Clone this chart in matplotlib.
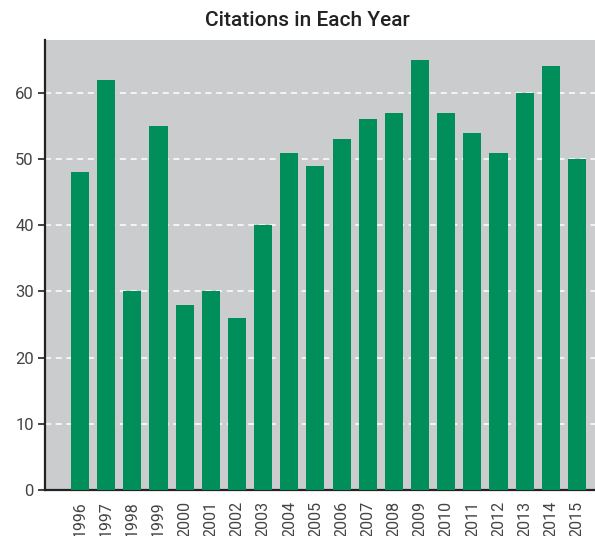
import matplotlib
matplotlib.use("Agg")
import matplotlib.pyplot as plt

years = [str(y) for y in range(1996, 2016)]
citations = [48, 62, 30, 55, 28, 30, 26, 40, 51, 49, 53, 56, 57, 65, 57, 54, 51, 60, 64, 50]
yticks = [0, 10, 20, 30, 40, 50, 60]

fig = plt.figure(figsize=(5.95, 5.36), dpi=100)
ax = fig.add_axes([45/595, 46/536, 550/595, 450/536])
ax.set_facecolor("#cbcccd")
x = list(range(len(years)))
ax.bar(x, citations, width=0.69, color="#008f5a", zorder=3)
ax.set_xlim(-1.34, 19.69)
ax.set_ylim(0, 68)
ax.set_yticks(yticks)
ax.set_xticks(x)
ax.set_xticklabels(years, rotation=90, fontsize=11.5, color="#444444", family="Roboto")
ax.tick_params(axis="x", length=0, pad=8)
ax.tick_params(axis="y", length=5, width=1.2, colors="#222222", labelcolor="#444444", labelsize=12, pad=3)
for lab in ax.get_yticklabels():
    lab.set_family("Roboto")
ax.yaxis.grid(True, color="white", linestyle=(0, (4, 3)), linewidth=1.1, zorder=1)
ax.set_axisbelow(True)
for s in ["top", "right"]:
    ax.spines[s].set_visible(False)
for s in ["left", "bottom"]:
    ax.spines[s].set_color("#222222")
    ax.spines[s].set_linewidth(1.6)
fig.text(307/595, 1 - 21/536, "Citations in Each Year", ha="center", va="center",
         fontsize=15, color="#222222", family="Roboto", weight="medium")
fig.savefig("out.png", dpi=100)
